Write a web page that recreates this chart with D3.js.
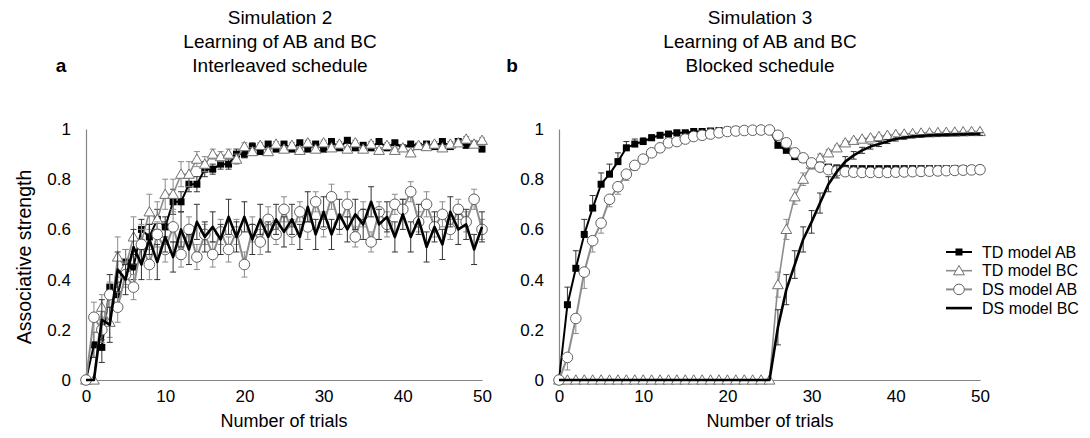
<!DOCTYPE html>
<html>
<head>
<meta charset="utf-8">
<script src="https://cdn.jsdelivr.net/npm/d3@7"></script>
<style>
body { margin: 0; background: #fff; }
text { font-family: "Liberation Sans", Arial, sans-serif; fill: #000; }
</style>
</head>
<body>
<svg width="1090" height="438"></svg>
<script>
// trial numbers 0..50
var trials = d3.range(0, 51);
var xTicks = [0, 10, 20, 30, 40, 50];
var yTicks = [0, 0.2, 0.4, 0.6, 0.8, 1];
var seriesNames = ["TD model AB", "TD model BC", "DS model AB", "DS model BC"];

// panel a - interleaved schedule
var tdAB_a = [0,0.14,0.13,0.37,0.34,0.47,0.45,0.60,0.57,0.64,0.61, 0.71,0.71,0.78,0.78,0.84,0.84,0.86,0.86,0.90,0.90,
  0.93,0.91,0.94,0.92,0.94,0.92,0.945,0.92,0.94,0.92, 0.95,0.925,0.955,0.925,0.935,0.925,0.95,0.925,0.945,0.925,
  0.94,0.93,0.94,0.93,0.95,0.93,0.95,0.935,0.94,0.92];
var tdAB_a_err = [0,0.05,0.06,0.05,0.05,0.05,0.05,0.04,0.05,0.04,0.04, 0.05,0.04,0.03,0.03,0.03,0.02,0.02,0.02,0.02,0.015,
  0.015,0.01,0.01,0.01,0.01,0.01,0.01,0.01,0.01,0.01, 0.01,0.01,0.01,0.01,0.01,0.01,0.01,0.01,0.01,0.01,
  0.01,0.01,0.01,0.01,0.01,0.01,0.01,0.01,0.01,0.01];
var tdBC_a = [0,0,0.29,0.23,0.49,0.45,0.57,0.55,0.67,0.64,0.74, 0.74,0.82,0.82,0.88,0.86,0.90,0.89,0.90,0.88,0.93,
  0.91,0.935,0.91,0.94,0.92,0.935,0.915,0.945,0.92,0.945, 0.925,0.94,0.92,0.945,0.92,0.94,0.915,0.935,0.915,0.925,
  0.905,0.935,0.93,0.94,0.925,0.94,0.945,0.96,0.94,0.955];
var tdBC_a_err = [0,0,0.05,0.06,0.08,0.07,0.08,0.07,0.07,0.07,0.06, 0.06,0.05,0.05,0.03,0.03,0.02,0.02,0.02,0.02,0.015,
  0.015,0.01,0.01,0.01,0.01,0.01,0.01,0.01,0.01,0.01, 0.01,0.01,0.01,0.01,0.01,0.01,0.01,0.01,0.01,0.01,
  0.01,0.01,0.01,0.01,0.01,0.01,0.01,0.01,0.01,0.01];
var dsAB_a = [0,0.25,0.20,0.34,0.29,0.42,0.37,0.54,0.46,0.58,0.52, 0.61,0.50,0.60,0.49,0.58,0.50,0.59,0.52,0.59,0.46,
  0.60,0.55,0.64,0.58,0.68,0.59,0.67,0.61,0.71,0.62, 0.73,0.62,0.70,0.57,0.66,0.55,0.67,0.62,0.70,0.68,
  0.75,0.63,0.70,0.61,0.66,0.60,0.68,0.63,0.72,0.60];
var dsAB_a_err = [0,0.06,0.05,0.05,0.06,0.05,0.05,0.06,0.06,0.05,0.05, 0.06,0.05,0.05,0.05,0.04,0.05,0.05,0.05,0.05,0.05,
  0.05,0.05,0.05,0.04,0.05,0.05,0.04,0.05,0.04,0.05, 0.05,0.04,0.05,0.04,0.05,0.04,0.04,0.05,0.04,0.04,
  0.04,0.04,0.05,0.04,0.05,0.04,0.04,0.04,0.04,0.04];
var dsBC_a = [0,0,0.24,0.22,0.44,0.40,0.53,0.46,0.56,0.47,0.57, 0.49,0.60,0.52,0.63,0.57,0.61,0.56,0.65,0.57,0.65,
  0.56,0.64,0.57,0.64,0.59,0.64,0.57,0.69,0.58,0.67, 0.58,0.66,0.60,0.66,0.62,0.71,0.62,0.65,0.57,0.66,
  0.57,0.64,0.53,0.61,0.54,0.67,0.60,0.62,0.52,0.61];
var dsBC_a_err = [0,0,0.08,0.07,0.07,0.06,0.07,0.06,0.06,0.07,0.06, 0.06,0.07,0.06,0.07,0.06,0.06,0.06,0.07,0.06,0.06,
  0.06,0.06,0.06,0.06,0.06,0.06,0.05,0.06,0.06,0.06, 0.06,0.06,0.05,0.06,0.06,0.06,0.06,0.06,0.06,0.06,
  0.06,0.06,0.06,0.06,0.06,0.06,0.06,0.06,0.06,0.06];

// panel b - blocked schedule
var tdAB_b = [0,0.30,0.445,0.58,0.685,0.78,0.82,0.87,0.925,0.94,0.95, 0.965,0.975,0.98,0.985,0.985,0.99,0.99,0.992,0.994,0.995,
  0.996,0.997,0.997,0.998,0.998,0.935,0.915,0.89,0.88,0.865, 0.855,0.848,0.845,0.843,0.842,0.842,0.842,0.842,0.842,0.842,
  0.842,0.842,0.842,0.842,0.842,0.842,0.842,0.842,0.842,0.842];
var tdAB_b_err = [0,0.07,0.07,0.06,0.05,0.045,0.04,0.035,0.025,0.02,0.015, 0.012,0.01,0.01,0.008,0.008,0.006,0.006,0.005,0.005,0.004,
  0.004,0.003,0.003,0.003,0.003,0.01,0.01,0.01,0.01,0.01, 0.008,0.008,0.006,0.006,0.005,0.005,0.005,0.005,0.005,0.005,
  0.005,0.005,0.005,0.005,0.005,0.005,0.005,0.005,0.005,0.005];
var tdBC_b = [0,0,0,0,0,0,0,0,0,0,0, 0,0,0,0,0,0,0,0,0,0, 0,0,0,0,0,0.38,0.60,0.73,0.80,0.86,
  0.885,0.905,0.925,0.945,0.955,0.96,0.965,0.97,0.975,0.978, 0.98,0.982,0.984,0.985,0.986,0.987,0.988,0.989,0.99,0.99];
var tdBC_b_err = [0,0,0,0,0,0,0,0,0,0,0, 0,0,0,0,0,0,0,0,0,0, 0,0,0,0,0,0.05,0.04,0.03,0.025,0.02,
  0.015,0.012,0.01,0.008,0.008,0.006,0.006,0.005,0.005,0.005, 0.005,0.005,0.005,0.005,0.005,0.005,0.005,0.005,0.005,0.005];
var dsAB_b = [0,0.09,0.245,0.43,0.555,0.625,0.72,0.77,0.82,0.855,0.88, 0.905,0.925,0.945,0.95,0.96,0.97,0.975,0.98,0.985,0.99,
  0.992,0.994,0.995,0.996,0.996,0.975,0.945,0.905,0.885,0.865, 0.848,0.838,0.833,0.83,0.828,0.827,0.827,0.827,0.827,0.828,
  0.829,0.83,0.831,0.832,0.833,0.834,0.835,0.836,0.837,0.838];
var dsAB_b_err = [0,0.05,0.06,0.065,0.045,0.04,0.03,0.03,0.025,0.02,0.015, 0.012,0.01,0.01,0.008,0.008,0.006,0.006,0.005,0.005,0.004,
  0.004,0.003,0.003,0.003,0.003,0.01,0.01,0.01,0.01,0.01, 0.008,0.008,0.006,0.006,0.005,0.005,0.005,0.005,0.005,0.005,
  0.005,0.005,0.005,0.005,0.005,0.005,0.005,0.005,0.005,0.005];
var dsBC_b = [0,0,0,0,0,0,0,0,0,0,0, 0,0,0,0,0,0,0,0,0,0, 0,0,0,0,0,0.21,0.36,0.46,0.56,0.63,
  0.705,0.78,0.83,0.87,0.895,0.915,0.93,0.94,0.95,0.96, 0.965,0.97,0.972,0.975,0.976,0.977,0.978,0.979,0.98,0.98];
var dsBC_b_err = [0,0,0,0,0,0,0,0,0,0,0, 0,0,0,0,0,0,0,0,0,0, 0,0,0,0,0,0.07,0.06,0.055,0.05,0.045,
  0.04,0.03,0.025,0.02,0.015,0.012,0.01,0.01,0.008,0.008, 0.006,0.006,0.005,0.005,0.005,0.005,0.005,0.005,0.005,0.005];

var svg = d3.select("svg");
var grey = "#8c8c8c";

// marker + line styles for the four series
var styles = [
  { line: "#000", width: 2, marker: "square", err: "#333" },
  { line: grey, width: 1.6, marker: "triangle", err: grey },
  { line: grey, width: 2, marker: "circle", err: grey },
  { line: "#000", width: 2.6, marker: null, err: "#333" }
];

function drawMarker(sel, type, cx, cy) {
  if (type == "square") {
    sel.append("rect").attr("x", cx - 3.5).attr("y", cy - 3.5)
      .attr("width", 7).attr("height", 7).attr("fill", "#000");
  } else if (type == "triangle") {
    sel.append("path").attr("transform", "translate(" + cx + "," + (cy + 1) + ")")
      .attr("d", d3.symbol(d3.symbolTriangle, 50)())
      .attr("fill", "#fff").attr("stroke", "#707070").attr("stroke-width", 1);
  } else if (type == "circle") {
    sel.append("circle").attr("cx", cx).attr("cy", cy).attr("r", 5.3)
      .attr("fill", "#fff").attr("stroke", "#606060").attr("stroke-width", 1);
  }
}

function drawPanel(xRange, series, errors, errDir) {
  var x = d3.scaleLinear().domain([0, 50]).range(xRange);
  var y = d3.scaleLinear().domain([0, 1]).range([380, 129]);
  var g = svg.append("g");

  g.append("g")
    .attr("transform", "translate(0,380)")
    .call(d3.axisBottom(x).tickValues(xTicks).tickSize(0).tickSizeOuter(0).tickPadding(10));
  g.append("g")
    .attr("transform", "translate(" + xRange[0] + ",0)")
    .call(d3.axisLeft(y).tickValues(yTicks).tickSize(0).tickSizeOuter(0).tickPadding(15)
      .tickFormat(function (d) { return d; }));
  g.selectAll(".domain").attr("stroke", "#868686").attr("stroke-width", 1.2);
  g.selectAll(".tick text").attr("font-size", "17px").attr("font-family", "Liberation Sans, Arial, sans-serif");

  var line = d3.line()
    .x(function (d, i) { return x(trials[i]); })
    .y(function (d) { return y(d); });

  series.forEach(function (vals, k) {
    var st = styles[k];
    var s = g.append("g");
    // error bars
    vals.forEach(function (v, i) {
      var e = errors[k][i];
      if (!e) return;
      var hi = errDir[k] == "minus" ? v : v + e;
      var lo = errDir[k] == "plus" ? v : v - e;
      var cx = x(trials[i]);
      s.append("line").attr("x1", cx).attr("x2", cx).attr("y1", y(lo)).attr("y2", y(hi))
        .attr("stroke", st.err).attr("stroke-width", 1);
      if (errDir[k] != "minus")
        s.append("line").attr("x1", cx - 3).attr("x2", cx + 3).attr("y1", y(hi)).attr("y2", y(hi))
          .attr("stroke", st.err).attr("stroke-width", 1);
      if (errDir[k] != "plus")
        s.append("line").attr("x1", cx - 3).attr("x2", cx + 3).attr("y1", y(lo)).attr("y2", y(lo))
          .attr("stroke", st.err).attr("stroke-width", 1);
    });
    s.append("path").datum(vals).attr("d", line)
      .attr("fill", "none").attr("stroke", st.line).attr("stroke-width", st.width)
      .attr("stroke-linejoin", "round");
    if (st.marker) {
      vals.forEach(function (v, i) { drawMarker(s, st.marker, x(trials[i]), y(v)); });
    }
  });
  return x;
}

drawPanel([86, 482], [tdAB_a, tdBC_a, dsAB_a, dsBC_a],
  [tdAB_a_err, tdBC_a_err, dsAB_a_err, dsBC_a_err], ["both", "both", "both", "both"]);
drawPanel([559, 980], [tdAB_b, tdBC_b, dsAB_b, dsBC_b],
  [tdAB_b_err, tdBC_b_err, dsAB_b_err, dsBC_b_err], ["plus", "both", "minus", "both"]);

// titles
function title(cx, lines) {
  lines.forEach(function (t, i) {
    svg.append("text").attr("x", cx).attr("y", 24 + i * 24)
      .attr("text-anchor", "middle").attr("font-size", "19px").text(t);
  });
}
title(280, ["Simulation 2", "Learning of AB and BC", "Interleaved schedule"]);
title(760, ["Simulation 3", "Learning of AB and BC", "Blocked schedule"]);

svg.append("text").attr("x", 61).attr("y", 72).attr("text-anchor", "middle")
  .attr("font-size", "19px").attr("font-weight", "bold").text("a");
svg.append("text").attr("x", 512).attr("y", 72).attr("text-anchor", "middle")
  .attr("font-size", "19px").attr("font-weight", "bold").text("b");

// axis titles
svg.append("text").attr("transform", "translate(31,257) rotate(-90)")
  .attr("text-anchor", "middle").attr("font-size", "19.5px").text("Associative strength");
svg.append("text").attr("x", 284).attr("y", 427).attr("text-anchor", "middle")
  .attr("font-size", "18px").text("Number of trials");
svg.append("text").attr("x", 770).attr("y", 427).attr("text-anchor", "middle")
  .attr("font-size", "18px").text("Number of trials");

// legend
var legend = svg.append("g");
seriesNames.forEach(function (name, k) {
  var ly = 252 + k * 18.7;
  var st = styles[k];
  legend.append("line").attr("x1", 946).attr("x2", 972).attr("y1", ly).attr("y2", ly)
    .attr("stroke", st.line).attr("stroke-width", st.width);
  drawMarker(legend, st.marker, 959, ly);
  legend.append("text").attr("x", 982).attr("y", ly).attr("dy", "0.35em")
    .attr("font-size", "16px").text(name);
});
</script>
</body>
</html>
